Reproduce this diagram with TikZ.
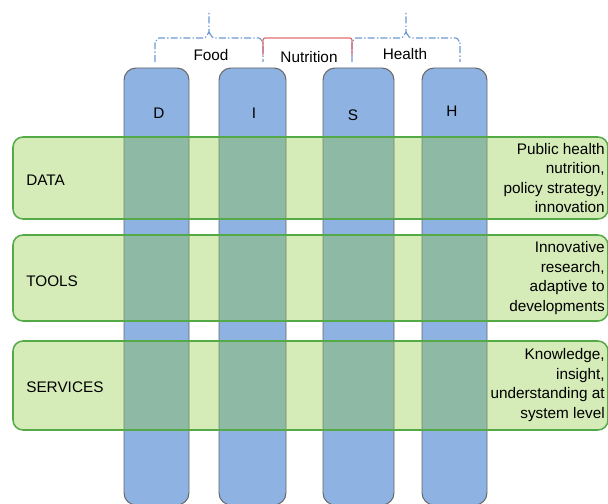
\documentclass[tikz,border=0pt]{standalone}
\usepackage{fontspec}
\setmainfont{Liberation Sans}
\definecolor{colfill}{RGB}{142,178,226}
\definecolor{colline}{RGB}{102,102,102}
\definecolor{rowfill}{RGB}{142,201,63}
\definecolor{rowline}{RGB}{84,170,70}
\definecolor{bracecol}{RGB}{110,152,212}
\definecolor{nutricol}{RGB}{222,110,110}
\begin{document}
\begin{tikzpicture}[x=0.025cm, y=-0.025cm]
\tikzstyle{every node}=[font=\fontsize{10.9}{13.8}\selectfont, inner sep=0pt]
\tikzstyle{col}=[fill=colfill, draw=colline, line width=0.7pt, rounded corners=0.3cm]
\tikzstyle{row}=[fill=rowfill, fill opacity=0.37, draw=rowline, line width=1.1pt, rounded corners=0.25cm]
\tikzstyle{brace}=[draw=bracecol, line width=0.8pt, dash pattern=on 5pt off 1.5pt on 1pt off 1.5pt]
\tikzstyle{nutri}=[draw=nutricol, line width=0.8pt, rounded corners=1.5pt]
\useasboundingbox (0, 0) rectangle (608, 504);

% Saeulen
\draw [col]  (124, 68) rectangle  (189, 505);
\draw [col]  (219, 68) rectangle  (286, 505);
\draw [col]  (323, 68) rectangle  (394, 505);
\draw [col]  (422, 68) rectangle  (487, 505);
\node (D) at  (159, 113) {D};
\node (I) at  (254, 113) {I};
\node (S) at  (353, 115) {S};
\node (H) at  (452, 111) {H};

% Zeilen
\draw [row]  (13, 137) rectangle  (608, 219);
\draw [row]  (13, 235) rectangle  (608, 321);
\draw [row]  (13, 341) rectangle  (608, 430);
\node [right] (data) at  (26, 180) {DATA};
\node [right] (tools) at  (26, 281) {TOOLS};
\node [right] (services) at  (26, 387) {SERVICES};
\node [left, align=right] (datatxt) at  (605, 178) {Public health\\nutrition,\\policy strategy,\\innovation};
\node [left, align=right] (toolstxt) at  (605, 278) {Innovative\\research,\\adaptive to\\developments};
\node [left, align=right] (servtxt) at  (605, 385) {Knowledge,\\insight,\\understanding at\\system level};

% Klammern
\draw [brace]  (155, 62) -- (155, 42) to [out=-90, in=180]  (159, 38) -- (204, 38) to [out=0, in=90]  (209, 33) -- (209, 13);
\draw [brace]  (209, 33) to [out=90, in=180]  (214, 38) -- (259, 38) to [out=0, in=-90]  (263, 42) -- (263, 62);
\draw [brace]  (352, 62) -- (352, 42) to [out=-90, in=180]  (356, 38) -- (401, 38) to [out=0, in=90]  (406, 33) -- (406, 13);
\draw [brace]  (406, 33) to [out=90, in=180]  (411, 38) -- (456, 38) to [out=0, in=-90]  (460, 42) -- (460, 62);
\draw [nutri]  (263, 55) |- (352, 38) -- (352, 55);
\node (food) at  (211, 55) {Food};
\node (nutrition) at  (309, 57) {Nutrition};
\node (health) at  (405, 54) {Health};

\end{tikzpicture}
\end{document}
